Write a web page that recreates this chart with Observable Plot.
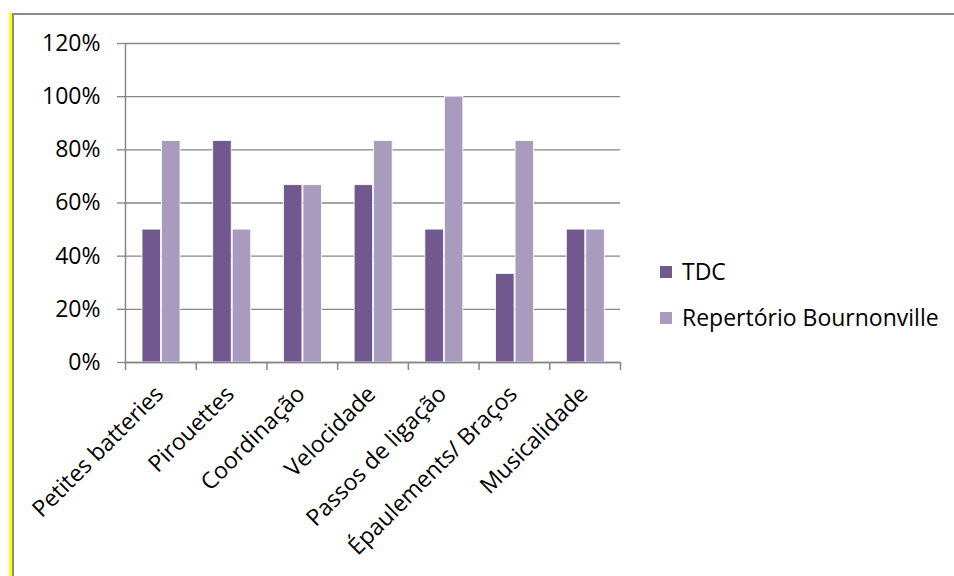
<!DOCTYPE html>
<html>
<head>
<meta charset="utf-8">
<script src="https://cdn.jsdelivr.net/npm/d3@7"></script>
<script src="https://cdn.jsdelivr.net/npm/@observablehq/plot@0.6"></script>
<style>
  body { margin: 0; background: #fff; }
  #wrap { position: relative; width: 954px; height: 576px; overflow: hidden; font-family: "Open Sans", sans-serif; }
  #yellow { position: absolute; left: 9px; top: 13px; width: 3px; bottom: 0; background: #ffff00; }
  #box { position: absolute; left: 12px; top: 13px; right: 0; bottom: 0; border-left: 2px solid #8a8a8a; border-top: 2px solid #8a8a8a; }
  #chart { position: absolute; left: 0; top: 0; }
  .leg { position: absolute; left: 660px; font-size: 23px; line-height: 31px; color: #000; white-space: nowrap; }
  .leg .sw { position: absolute; left: 0; top: 10px; width: 12px; height: 12px; }
  .leg .lb { position: absolute; left: 22px; top: 0; }
</style>
</head>
<body>
<div id="wrap">
  <div id="yellow"></div>
  <div id="box"></div>
  <div id="chart"></div>
  <div id="legend"></div>
</div>
<script>
const categories = ["Petites batteries", "Pirouettes", "Coordinação", "Velocidade", "Passos de ligação", "Épaulements/ Braços", "Musicalidade"];
const seriesNames = ["TDC", "Repertório Bournonville"];
const tdcValues = [0.5, 0.833, 0.667, 0.667, 0.5, 0.333, 0.5];
const repValues = [0.833, 0.5, 0.667, 0.833, 1.0, 0.833, 0.5];
const yTicks = [0, 0.2, 0.4, 0.6, 0.8, 1.0, 1.2];
const colors = ["#71588F", "#A99BBD"];

const tdcData = categories.map((c, i) => ({category: c, value: tdcValues[i]}));
const repData = categories.map((c, i) => ({category: c, value: repValues[i]}));

const W = 954, H = 576, mL = 125, mR = 334, mT = 43, mB = 214;
const bw = (W - mL - mR) / categories.length;
const grid = "#868686";

const chart = Plot.plot({
  width: W, height: H,
  marginLeft: mL, marginRight: mR, marginTop: mT, marginBottom: mB,
  style: {fontFamily: "Open Sans, sans-serif", fontSize: "23px", background: "transparent", color: "#000", overflow: "visible"},
  x: {domain: categories, padding: 0, round: false, axis: null},
  y: {domain: [0, 1.2], axis: null},
  marks: [
    Plot.gridY(yTicks, {stroke: grid, strokeOpacity: 1, strokeWidth: 1.3}),
    Plot.axisY(yTicks, {label: null, tickSize: 8, tickPadding: 17, tickFormat: d3.format(".0%"), stroke: grid, strokeWidth: 1.3, fill: "#000", fontSize: 23}),
    Plot.barY(tdcData, {x: "category", y: "value", fill: colors[0], insetLeft: 17, insetRight: bw - 35.5, stroke: "#fff", strokeWidth: 0.8}),
    Plot.barY(repData, {x: "category", y: "value", fill: colors[1], insetLeft: 36.5, insetRight: bw - 55, stroke: "#fff", strokeWidth: 0.8}),
    Plot.ruleY([0], {stroke: grid, strokeWidth: 1.5}),
    Plot.ruleX([categories[0]], {x: d => d, y1: 0, y2: 1.2, dx: -bw / 2, stroke: grid, strokeWidth: 1.5}),
    Plot.ruleX(categories, {x: d => d, y1: 0, y2: -0.03, dx: -bw / 2, stroke: grid, strokeWidth: 1.5}),
    Plot.ruleX([categories[categories.length - 1]], {x: d => d, y1: 0, y2: -0.03, dx: bw / 2, stroke: grid, strokeWidth: 1.5}),
    Plot.text(categories, {x: d => d, frameAnchor: "bottom", rotate: -45, textAnchor: "end", lineAnchor: "bottom", dx: 4, dy: 33, fontSize: 23, fill: "#000"})
  ]
});
document.getElementById("chart").appendChild(chart);

const legend = document.getElementById("legend");
const legTops = [256, 302];
seriesNames.forEach((name, i) => {
  const row = document.createElement("div");
  row.className = "leg";
  row.style.top = legTops[i] + "px";
  const sw = document.createElement("span");
  sw.className = "sw";
  sw.style.background = colors[i];
  const lb = document.createElement("span");
  lb.className = "lb";
  lb.textContent = name;
  row.appendChild(sw);
  row.appendChild(lb);
  legend.appendChild(row);
});
</script>
</body>
</html>
